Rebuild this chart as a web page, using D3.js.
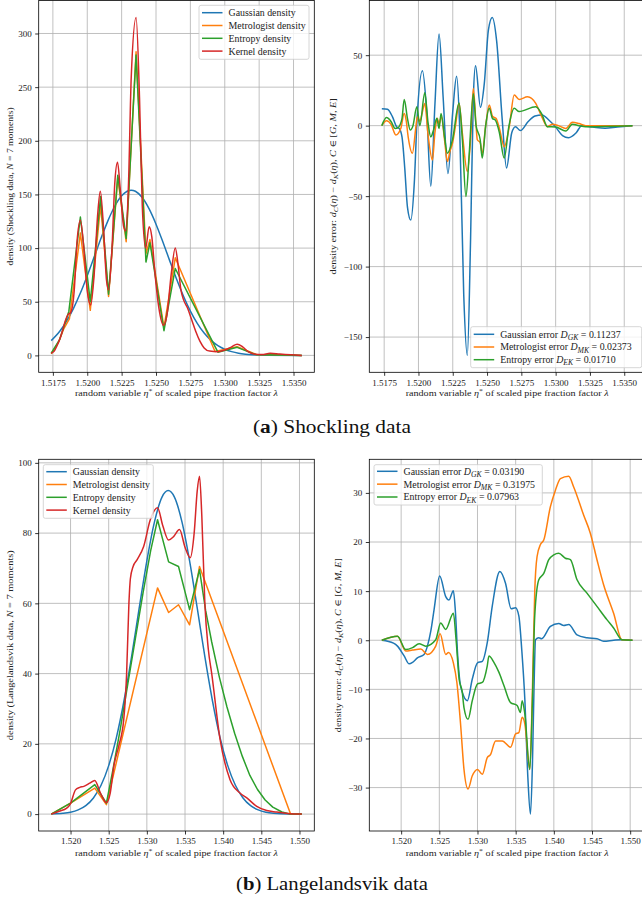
<!DOCTYPE html>
<html>
<head>
<meta charset="utf-8">
<script src="https://cdn.jsdelivr.net/npm/d3@7"></script>
<style>
  body { margin: 0; background: #fff; }
  svg { display: block; font-family: "Liberation Serif", "DejaVu Serif", serif; }
</style>
</head>
<body>
<svg id="fig" width="642" height="900"></svg>
<script>
// ---------- Shockling data: densities [x, density] ----------
const shockGaussian = [[1.51738,13.8],[1.5180,22.5],[1.5185,32],[1.5190,43.9],[1.5195,58.1],[1.5200,74.3],[1.5205,91.6],[1.5210,109.1],[1.5215,125.4],[1.5220,139],[1.5225,148.7],[1.5229,153],[1.5232,154],[1.5235,153],[1.5240,147.1],[1.5245,136.5],[1.5250,122.3],[1.5255,105.7],[1.5260,88.1],[1.5265,70.9],[1.5270,55.1],[1.5275,41.3],[1.5280,29.9],[1.5285,20.8],[1.5290,14],[1.5295,9.1],[1.5300,5.7],[1.5305,3.5],[1.5310,2.0],[1.5315,1.1],[1.5320,0.6],[1.5330,0.15],[1.5356,0]];
const shockMetrologist = [[1.51738,1.5],[1.5179,12],[1.5183,25],[1.5187,34],[1.5195,114],[1.52022,42],[1.52097,140],[1.52155,55],[1.52222,166],[1.52283,106],[1.52355,283],[1.52427,95],[1.52456,108],[1.52558,26],[1.5264,91],[1.52929,3.7],[1.5309,8],[1.5323,0.8],[1.5340,0.5],[1.5356,0]];
const shockEntropy = [[1.51738,2],[1.5180,15],[1.51866,41],[1.5195,129],[1.52022,50],[1.52097,148],[1.52155,57],[1.52222,168],[1.52283,109],[1.52355,280],[1.52427,87],[1.52456,105],[1.52558,23],[1.5264,81],[1.5295,3],[1.5309,7.5],[1.5323,0.5],[1.5340,0.3],[1.5356,0]];
const shockKernel = [[1.51738,2],[1.5176,4],[1.5178,9],[1.5180,15],[1.5182,23],[1.5184,32],[1.5186,38],[1.5188,40],[1.51905,60],[1.51925,105],[1.5195,126],[1.51975,100],[1.5200,60],[1.52025,47],[1.5205,75],[1.52075,130],[1.52095,153],[1.5212,115],[1.5214,70],[1.52155,61],[1.5218,100],[1.5220,160],[1.5222,180],[1.5224,155],[1.52265,120],[1.5228,116],[1.5230,160],[1.5232,260],[1.52355,315],[1.5238,240],[1.5240,140],[1.52425,100],[1.5245,120],[1.5247,110],[1.5249,80],[1.5252,45],[1.52555,28],[1.5258,38],[1.5261,75],[1.5264,100],[1.5266,85],[1.5268,62],[1.5270,52],[1.5273,44],[1.5276,33],[1.5279,22],[1.5282,13],[1.5285,7],[1.5289,4],[1.5295,3.5],[1.5300,5],[1.5305,8],[1.5309,10.5],[1.5313,8],[1.5317,3.5],[1.5322,1],[1.5327,0.8],[1.5333,2],[1.5340,1.2],[1.5348,0.5],[1.5356,0]];

// ---------- Shockling data: errors against the kernel density ----------
const shockGaussianErr = [[1.51733,12],[1.51774,11.6],[1.5181,6.4],[1.51842,-1],[1.5186,-2],[1.5188,-8],[1.5190,-30],[1.5192,-58],[1.51944,-67],[1.5197,-40],[1.5199,5],[1.52029,39],[1.5206,10],[1.5209,-43],[1.5212,15],[1.5215,65],[1.5218,20],[1.52215,-34],[1.5225,10],[1.52278,35],[1.5230,0],[1.5233,-120],[1.52356,-163],[1.5238,-80],[1.5240,20],[1.52416,42.5],[1.52452,13],[1.5248,30],[1.5251,68],[1.52538,76.8],[1.5257,60],[1.5261,5],[1.52642,-30],[1.5268,-5],[1.52707,-0.7],[1.52743,-3.5],[1.5280,3],[1.5285,6.8],[1.52901,7.6],[1.5295,4],[1.5300,-1],[1.5305,-7],[1.53094,-8.5],[1.5315,-5],[1.5319,0],[1.5327,-1],[1.5336,-1.9],[1.5345,-1],[1.5356,0]];
const shockMetrologistErr = [[1.51733,0],[1.51767,3.5],[1.5180,1],[1.51835,-6.6],[1.51871,-2],[1.51896,8.7],[1.5191,4],[1.51925,-8],[1.51956,-19.6],[1.5198,-2],[1.51992,6.4],[1.5201,3],[1.52025,8],[1.52046,15.8],[1.5207,-6.6],[1.52102,-24.3],[1.5212,-5],[1.52138,5.2],[1.5215,1],[1.52167,6.4],[1.5219,-10],[1.52211,-25.5],[1.5223,-18],[1.52248,-12.5],[1.5227,0],[1.52296,15.8],[1.5232,-5.4],[1.52356,-32.5],[1.5238,-10],[1.5240,26.4],[1.5242,0],[1.52429,-10],[1.5245,-12],[1.52465,-19.6],[1.5249,0],[1.52516,14.6],[1.52541,6.4],[1.52565,5.2],[1.5259,-2],[1.52625,-14.9],[1.52662,-0.7],[1.52698,21.7],[1.52734,18.6],[1.52795,20.5],[1.52855,15.8],[1.5290,6],[1.5294,-0.7],[1.52977,1],[1.5302,0],[1.53074,-2],[1.53122,2.4],[1.5317,1.5],[1.53219,0],[1.5356,0]];
const shockEntropyErr = [[1.51733,0],[1.51767,5.7],[1.5180,3],[1.5183,-2],[1.5185,-1.5],[1.5188,5],[1.51896,18.6],[1.5192,5],[1.5194,-3],[1.5196,0],[1.51988,13.4],[1.5201,0],[1.52046,23.3],[1.5207,2],[1.5209,-8],[1.5211,-3],[1.52134,5.2],[1.5215,-2],[1.52165,8.7],[1.5219,-8],[1.52211,-19.6],[1.52248,-10],[1.52296,16],[1.5232,-10],[1.52346,-50.2],[1.5237,-20],[1.5240,22.7],[1.5242,0],[1.5245,-10],[1.52465,-23],[1.5249,0],[1.52516,12.3],[1.5254,5],[1.5256,4],[1.5259,-5],[1.52625,-23],[1.5266,0],[1.52698,12.3],[1.52734,10],[1.52855,13.4],[1.5290,8],[1.5294,-0.7],[1.5300,-1],[1.53074,-3.8],[1.53122,1],[1.5317,0],[1.53219,-0.7],[1.5356,0]];

// ---------- Langelandsvik data: densities ----------
const langGaussian = [[1.51747,0.06],[1.5190,0.24],[1.5200,0.55],[1.5210,1.19],[1.5220,2.4],[1.5230,4.6],[1.5240,8.2],[1.5250,13.8],[1.5260,21.7],[1.5270,32.2],[1.5280,44.8],[1.5290,58.7],[1.5300,72.1],[1.5310,83.2],[1.5320,90.3],[1.5328,92.1],[1.5336,90.3],[1.5346,83.2],[1.5356,72.1],[1.5366,58.7],[1.5376,44.8],[1.5386,32.2],[1.5396,21.7],[1.5406,13.8],[1.5416,8.2],[1.5426,4.6],[1.5436,2.4],[1.5446,1.19],[1.5456,0.55],[1.5466,0.24],[1.5476,0.1],[1.5503,0]];
const langMetrologist = [[1.51747,0],[1.5200,3.1],[1.52318,7.4],[1.5247,2.7],[1.5314,64.4],[1.53285,57.4],[1.53415,59.6],[1.5356,53.9],[1.5369,70.5],[1.54883,0],[1.5503,0]];
const langEntropy = [[1.51747,0],[1.5200,3.1],[1.52318,8.4],[1.5247,3.1],[1.5255,12],[1.5265,24],[1.5275,37],[1.5285,50],[1.5295,63],[1.5305,75],[1.5314,83.8],[1.53285,71.8],[1.53415,70.5],[1.5356,58.2],[1.5369,69.6],[1.5377,58],[1.5385,49],[1.5395,39],[1.5405,30.5],[1.5415,23],[1.5425,16.5],[1.5435,11],[1.5445,7],[1.5455,4],[1.5465,2],[1.5477,0.6],[1.54883,0],[1.5503,0]];
const langKernel = [[1.51747,0],[1.5185,0.8],[1.5195,1.7],[1.5200,3],[1.52065,6.9],[1.5212,7.6],[1.52174,7.9],[1.5225,8.8],[1.52318,9.6],[1.52392,6],[1.5247,3.3],[1.5252,6],[1.5257,14],[1.52631,19.3],[1.52697,26.9],[1.52735,40],[1.52765,60],[1.52784,67],[1.5282,70.5],[1.52871,72.4],[1.52958,76.2],[1.53045,83.8],[1.5314,87.2],[1.5321,82],[1.53285,78],[1.5335,79],[1.53428,81],[1.5350,76],[1.53568,73],[1.5362,80],[1.5366,92],[1.5369,96.2],[1.5372,85],[1.5376,60],[1.53805,47],[1.5385,40],[1.5396,21.2],[1.5409,9.8],[1.5422,6],[1.5431,4.6],[1.5444,2.2],[1.5457,1],[1.5470,0.6],[1.5485,0.2],[1.5503,0]];

// ---------- Langelandsvik data: errors against the kernel density ----------
const langGaussianErr = [[1.51747,0],[1.5190,-0.6],[1.51952,-1.2],[1.52039,-3.2],[1.52105,-4.8],[1.5215,-4.5],[1.52213,-3.6],[1.5230,-2.9],[1.52344,-1.2],[1.5239,2],[1.52431,6.2],[1.52505,13.1],[1.52584,8.9],[1.52627,8.2],[1.52684,10.1],[1.5271,6],[1.5274,-3],[1.5277,-8.5],[1.52801,-10.6],[1.52867,-12.3],[1.52932,-7.9],[1.5300,-4.6],[1.53063,-4.3],[1.53128,-0.5],[1.53193,6.9],[1.53293,14],[1.53367,11.6],[1.53441,6.4],[1.53498,6.6],[1.53542,4.9],[1.5358,-2],[1.5362,-12],[1.5366,-28],[1.53694,-35.4],[1.5372,-25],[1.5374,-10],[1.5376,0.1],[1.53803,0.5],[1.5384,0.3],[1.53955,2.8],[1.54064,3.4],[1.5413,3],[1.54195,3.2],[1.54304,1.1],[1.54434,0.5],[1.54565,0.3],[1.54652,-0.2],[1.54783,0],[1.5487,0.1],[1.5503,0]];
const langMetrologistErr = [[1.51747,0],[1.51952,0.8],[1.52061,-2.2],[1.5215,-2],[1.52257,-1.8],[1.52344,-2.9],[1.52453,-1.2],[1.5251,1.3],[1.52584,-2.9],[1.5262,-2.5],[1.52684,-4.6],[1.5273,-8.6],[1.5278,-17.4],[1.52823,-26.3],[1.52876,-30.3],[1.52932,-27.6],[1.5300,-26.3],[1.53063,-27.3],[1.53128,-23.9],[1.5317,-23.3],[1.53237,-20.5],[1.53324,-20.5],[1.53433,-21.8],[1.53498,-19.1],[1.53542,-18.8],[1.53585,-15.7],[1.5362,-17],[1.53685,-26.3],[1.5372,-10],[1.5375,10],[1.5378,17],[1.53825,19.5],[1.53868,20.4],[1.53955,27.2],[1.5402,30.5],[1.54086,32.9],[1.54195,33.4],[1.5426,31.2],[1.5439,25.5],[1.54478,21.8],[1.54565,16.4],[1.54652,11.3],[1.54783,5.5],[1.54892,0.1],[1.5503,0]];
const langEntropyErr = [[1.51747,0],[1.51952,0.8],[1.52061,-1.9],[1.5215,-1.5],[1.52235,-0.7],[1.52322,-1.2],[1.52453,0.1],[1.52518,3.5],[1.52584,2.2],[1.52684,5.5],[1.5272,0],[1.5276,-8],[1.5280,-10.5],[1.52823,-13.7],[1.52876,-16.1],[1.52932,-12.3],[1.5300,-8.9],[1.53063,-8.6],[1.53128,-5.2],[1.5315,-3.2],[1.53215,-4.5],[1.5328,-6.5],[1.53346,-9.2],[1.53433,-12.7],[1.5352,-13.3],[1.53563,-14.7],[1.53585,-12.3],[1.5362,-15],[1.53685,-26.3],[1.5372,-12],[1.5375,5],[1.53803,12.3],[1.53868,13.6],[1.53934,16.4],[1.5400,17.4],[1.54064,17.7],[1.54151,16.7],[1.54217,16.4],[1.54304,12.3],[1.54434,9.6],[1.54565,6.9],[1.54695,4.2],[1.54783,2.5],[1.54892,0.1],[1.5503,0]];

// ---------- ticks and labels ----------
const shockXTicks = [1.5175, 1.5200, 1.5225, 1.5250, 1.5275, 1.5300, 1.5325, 1.5350];
const shockDensityTicks = [0, 50, 100, 150, 200, 250, 300];
const shockErrorTicks = [-150, -100, -50, 0, 50];
const langXTicks = [1.520, 1.525, 1.530, 1.535, 1.540, 1.545, 1.550];
const langDensityTicks = [0, 20, 40, 60, 80, 100];
const langErrorTicks = [-30, -20, -10, 0, 10, 20, 30];

const densityNames = ["Gaussian density", "Metrologist density", "Entropy density", "Kernel density"];
const errorNames = ["Gaussian error", "Metrologist error", "Entropy error"];
const errorSubs = ["GK", "MK", "EK"];
const shockDistances = ["0.11237", "0.02373", "0.01710"];
const langDistances = ["0.03190", "0.31975", "0.07963"];

const C = { gauss: "#1f77b4", metro: "#ff7f0e", entropy: "#2ca02c", kernel: "#d62728" };
const svg = d3.select("#fig");

// Writes a run of plain / italic / sub / superscript pieces into a text element.
function rich(textSel, parts, size) {
  let shift = 0;
  parts.forEach(p => {
    const want = p.sub ? size * 0.24 : p.sup ? -size * 0.38 : 0;
    const ts = textSel.append("tspan").text(p.t);
    if (want !== shift) ts.attr("dy", want - shift);
    shift = want;
    if (p.i) ts.attr("font-style", "italic");
    if (p.b) ts.attr("font-weight", "bold");
    if (p.sub || p.sup) ts.attr("font-size", size * 0.78);
  });
  return textSel;
}

const xLabelParts = [{t: "random variable "}, {t: "η", i: true}, {t: "*", sup: true}, {t: " of scaled pipe fraction factor "}, {t: "λ", i: true}];
const errLabelParts = [{t: "density error: "}, {t: "d", i: true}, {t: "C", i: true, sub: true}, {t: "("}, {t: "η", i: true}, {t: ") − "},
  {t: "d", i: true}, {t: "K", i: true, sub: true}, {t: "("}, {t: "η", i: true}, {t: "), "}, {t: "C", i: true}, {t: " ∈ ["},
  {t: "G", i: true}, {t: ", "}, {t: "M", i: true}, {t: ", "}, {t: "E", i: true}, {t: "]"}];

function drawPanel(cfg) {
  const { left, right, top, bottom } = cfg.box;
  const all = cfg.series.flatMap(s => s.data);
  const xe = d3.extent(all, d => d[0]), ye = d3.extent(all, d => d[1]);
  const xp = (xe[1] - xe[0]) * 0.05, yp = (ye[1] - ye[0]) * 0.05;
  const x = d3.scaleLinear().domain([xe[0] - xp, xe[1] + xp]).range([left, right]);
  const y = d3.scaleLinear().domain([ye[0] - yp, ye[1] + yp]).range([bottom, top]);
  const g = svg.append("g");

  g.append("clipPath").attr("id", cfg.id).append("rect")
    .attr("x", left).attr("y", top).attr("width", right - left).attr("height", bottom - top);

  // grid
  g.append("g").selectAll("line").data(cfg.xTicks).join("line")
    .attr("x1", d => x(d)).attr("x2", d => x(d)).attr("y1", top).attr("y2", bottom)
    .attr("stroke", "#b0b0b0").attr("stroke-width", 0.8);
  g.append("g").selectAll("line").data(cfg.yTicks).join("line")
    .attr("y1", d => y(d)).attr("y2", d => y(d)).attr("x1", left).attr("x2", right)
    .attr("stroke", "#b0b0b0").attr("stroke-width", 0.8);

  // curves
  const plot = g.append("g").attr("clip-path", `url(#${cfg.id})`);
  cfg.series.forEach(s => {
    plot.append("path").datum(s.data)
      .attr("fill", "none").attr("stroke", s.color).attr("stroke-width", 1.5)
      .attr("stroke-linejoin", "round").attr("stroke-linecap", "butt")
      .attr("d", d3.line().x(d => x(d[0])).y(d => y(d[1])).curve(s.curve));
  });

  // frame
  g.append("rect").attr("x", left).attr("y", top).attr("width", right - left).attr("height", bottom - top)
    .attr("fill", "none").attr("stroke", "#000").attr("stroke-width", 0.8);

  // axes
  const xa = g.append("g").attr("transform", `translate(0,${bottom})`)
    .call(d3.axisBottom(x).tickValues(cfg.xTicks).tickFormat(cfg.xFormat).tickSizeInner(3.5).tickSizeOuter(0).tickPadding(3.5));
  const ya = g.append("g").attr("transform", `translate(${left},0)`)
    .call(d3.axisLeft(y).tickValues(cfg.yTicks).tickFormat(d3.format("d")).tickSizeInner(3.5).tickSizeOuter(0).tickPadding(3.5));
  [xa, ya].forEach(a => {
    a.select(".domain").remove();
    a.attr("font-family", null).attr("font-size", 9);
    a.selectAll("line").attr("stroke", "#000").attr("stroke-width", 0.8);
    a.selectAll("text").attr("fill", "#222");
  });

  // axis titles
  const cx = (left + right) / 2, cy = (top + bottom) / 2;
  rich(g.append("text").attr("x", cx).attr("y", cfg.xLabelY).attr("text-anchor", "middle")
    .attr("font-size", 8.6).attr("fill", "#222").attr("textLength", 203).attr("lengthAdjust", "spacingAndGlyphs"), xLabelParts, 8.6);
  rich(g.append("text").attr("transform", `translate(${cfg.yLabelX},${cy}) rotate(-90)`).attr("text-anchor", "middle")
    .attr("font-size", 8.6).attr("fill", "#222").attr("textLength", cfg.yLabelLen).attr("lengthAdjust", "spacingAndGlyphs"), cfg.yLabel, 8.6);

  // legend
  const L = cfg.legend;
  const lg = g.append("g");
  lg.append("rect").attr("x", L.x).attr("y", L.y).attr("width", L.w).attr("height", L.h).attr("rx", 2)
    .attr("fill", "#fff").attr("fill-opacity", 0.8).attr("stroke", "#cccccc").attr("stroke-width", 0.8);
  L.rows.forEach((r, i) => {
    const ry = L.y + L.first + i * L.step;
    lg.append("line").attr("x1", L.x + 3).attr("x2", L.x + 23.5).attr("y1", ry).attr("y2", ry)
      .attr("stroke", r.color).attr("stroke-width", 1.5);
    rich(lg.append("text").attr("x", L.x + 29.5).attr("y", ry + 3.4).attr("font-size", 9.9).attr("fill", "#222"), r.parts, 9.9);
  });
}

const densityCurves = (g, m, e, k) => [
  { data: g, color: C.gauss, curve: d3.curveMonotoneX },
  { data: m, color: C.metro, curve: d3.curveLinear },
  { data: e, color: C.entropy, curve: d3.curveLinear },
  { data: k, color: C.kernel, curve: d3.curveMonotoneX }
];
const errorCurves = (g, m, e) => [
  { data: g, color: C.gauss, curve: d3.curveMonotoneX },
  { data: m, color: C.metro, curve: d3.curveMonotoneX },
  { data: e, color: C.entropy, curve: d3.curveMonotoneX }
];
const densityRows = densityNames.map((n, i) => ({ color: [C.gauss, C.metro, C.entropy, C.kernel][i], parts: [{ t: n }] }));
const errorRows = dists => errorNames.map((n, i) => ({
  color: [C.gauss, C.metro, C.entropy][i],
  parts: [{ t: n + " " }, { t: "D", i: true }, { t: errorSubs[i], i: true, sub: true }, { t: " = " + dists[i] }]
}));

// (a) Shockling data
drawPanel({
  id: "clipA1", box: { left: 38.7, right: 314.3, top: 0.5, bottom: 372.3 },
  series: densityCurves(shockGaussian, shockMetrologist, shockEntropy, shockKernel),
  xTicks: shockXTicks, yTicks: shockDensityTicks, xFormat: d3.format(".4f"),
  xLabelY: 396, yLabelX: 12.5, yLabelLen: 158,
  yLabel: [{ t: "density (Shockling data, " }, { t: "N", i: true }, { t: " = 7 moments)" }],
  legend: { x: 199, y: 5.3, w: 110, h: 54, first: 7.4, step: 12.8, rows: densityRows }
});
drawPanel({
  id: "clipA2", box: { left: 369.3, right: 645, top: 0.5, bottom: 372.3 },
  series: errorCurves(shockGaussianErr, shockMetrologistErr, shockEntropyErr),
  xTicks: shockXTicks, yTicks: shockErrorTicks, xFormat: d3.format(".4f"),
  xLabelY: 396, yLabelX: 335.5, yLabelLen: 176, yLabel: errLabelParts,
  legend: { x: 470.7, y: 326.7, w: 171, h: 41, first: 7.6, step: 12.7, rows: errorRows(shockDistances) }
});

// (b) Langelandsvik data
drawPanel({
  id: "clipB1", box: { left: 38.7, right: 314.3, top: 459.3, bottom: 831 },
  series: densityCurves(langGaussian, langMetrologist, langEntropy, langKernel),
  xTicks: langXTicks, yTicks: langDensityTicks, xFormat: d3.format(".3f"),
  xLabelY: 856, yLabelX: 12.5, yLabelLen: 190,
  yLabel: [{ t: "density (Langelandsvik data, " }, { t: "N", i: true }, { t: " = 7 moments)" }],
  legend: { x: 43.3, y: 464.7, w: 110, h: 53.6, first: 7, step: 12.8, rows: densityRows }
});
drawPanel({
  id: "clipB2", box: { left: 369.3, right: 645, top: 459.3, bottom: 831 },
  series: errorCurves(langGaussianErr, langMetrologistErr, langEntropyErr),
  xTicks: langXTicks, yTicks: langErrorTicks, xFormat: d3.format(".3f"),
  xLabelY: 856, yLabelX: 340.5, yLabelLen: 174, yLabel: errLabelParts,
  legend: { x: 374, y: 464.7, w: 168.3, h: 40.3, first: 6.6, step: 12.85, rows: errorRows(langDistances) }
});

// sub-figure captions
[
  { y: 432.5, len: 158, parts: [{ t: "(" }, { t: "a", b: true }, { t: ") Shockling data" }] },
  { y: 890, len: 192, parts: [{ t: "(" }, { t: "b", b: true }, { t: ") Langelandsvik data" }] }
].forEach(c => {
  rich(svg.append("text").attr("x", 332).attr("y", c.y).attr("text-anchor", "middle").attr("font-size", 18)
    .attr("fill", "#111").attr("textLength", c.len).attr("lengthAdjust", "spacingAndGlyphs"), c.parts, 18);
});
</script>
</body>
</html>
